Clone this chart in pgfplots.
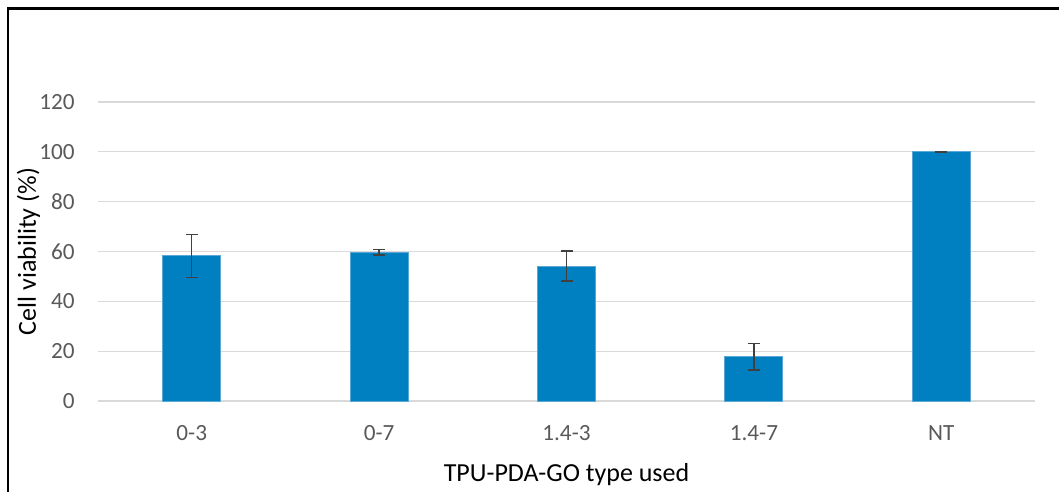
\documentclass[border=0pt]{standalone}
\usepackage{fontspec}
\setmainfont{Carlito}
\usepackage{pgfplots}
\pgfplotsset{compat=1.18}
\definecolor{barblue}{HTML}{0080C0}
\definecolor{baredge}{HTML}{5AA8D6}
\definecolor{gridc}{HTML}{D9D9D9}
\definecolor{tickc}{HTML}{595959}
\definecolor{errc}{HTML}{404040}
\begin{document}
\begin{tikzpicture}
\begin{axis}[
  at={(0,0)}, anchor=south west,
  scale only axis, width=468.5pt, height=149.5pt,
  xmin=-0.5, xmax=4.5, ymin=0, ymax=120,
  ytick={0,20,...,120},
  xtick={0,...,4}, xticklabels={0-3,0-7,1.4-3,1.4-7,NT},
  axis line style={draw=none},
  major tick length=0pt,
  ymajorgrids, grid style={gridc, line width=0.6pt},
  /pgf/number format/assume math mode=true,
  tick label style={font=\fontsize{11.6}{13}\selectfont, text=tickc, inner sep=0pt},
  xticklabel style={anchor=base, yshift=-19.5pt},
  yticklabel style={anchor=east, xshift=-11.5pt},
  xlabel={TPU-PDA-GO type used},
  ylabel={Cell viability (\%)},
  label style={font=\fontsize{13}{15}\selectfont, inner sep=0pt},
  xlabel style={at={(axis description cs:0.5,-0.2676)}, anchor=base},
  ylabel style={at={(axis description cs:-0.0662,0.5)}, anchor=base, rotate=0},
]
\addplot[ybar, bar width=29pt, fill=barblue, draw=baredge, line width=0.5pt,
  error bars/.cd, y dir=both, y explicit,
  error bar style={color=errc, line width=0.8pt},
  error mark options={rotate=90, mark size=3pt, line width=0.8pt, color=errc}]
  coordinates {
  (0,58.2) +- (0,8.6)
  (1,59.7) +- (0,1.1)
  (2,54.1) +- (0,6.0)
  (3,17.7) +- (0,5.3)
  (4,100.0) +- (0,0.2)
  };
\end{axis}
\pgfresetboundingbox
\path[use as bounding box] (-49pt,-45.5pt) rectangle (480.5pt,200.5pt);
\draw[line width=1.1pt, line cap=rect] (-45pt,-60pt) -- (-45pt,196.2pt) -- (500pt,196.2pt);
\end{tikzpicture}
\end{document}
